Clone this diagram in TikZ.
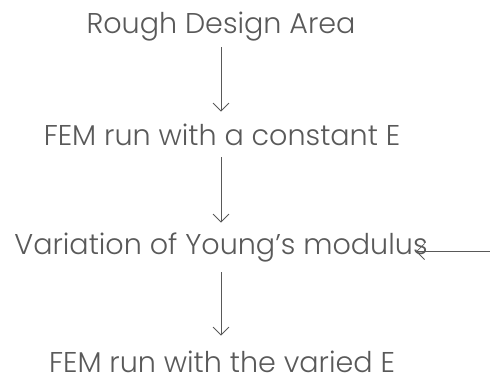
\documentclass[tikz,border=0pt]{standalone}
\usepackage{fontspec}
\setmainfont{Poppins}[UprightFont=* Light]
\usetikzlibrary{arrows.meta}
\definecolor{inkgray}{RGB}{89,89,89}

\tikzset{
  stagebox/.style={inner sep=0pt, anchor=base, text height=21pt, text depth=6pt,
    text=inkgray, font=\fontsize{28.6}{32}\selectfont},
  flow/.style={-{Straight Barb[length=8pt,width=16pt]}}
}

\begin{document}
\begin{tikzpicture}[x=1pt,y=-1pt,draw=inkgray,line width=0.8pt]
\useasboundingbox (0,0) rectangle (490,381);

\node[stagebox] (rough) at (221,33) {Rough Design Area};
\node[stagebox] (const) at (222,145) {FEM run with a constant E};
\node[stagebox] (vary) at (221,254) {Variation of Young’s modulus};
\node[stagebox] (varied) at (222,372) {FEM run with the varied E};
\coordinate (feed) at (490,251.5);

\draw[flow, shorten <=8pt, shorten >=12pt] (rough.south -| 221,0) -- (const.north -| 221,0);
\draw[flow, shorten <=6pt, shorten >=10pt] (const.south -| 221,0) -- (vary.north -| 221,0);
\draw[flow, shorten <=12pt, shorten >=15pt] (vary.south -| 221,0) -- (varied.north -| 221,0);
\draw[flow, shorten >=-12pt] (feed) -- (feed -| vary.east);
\end{tikzpicture}
\end{document}
